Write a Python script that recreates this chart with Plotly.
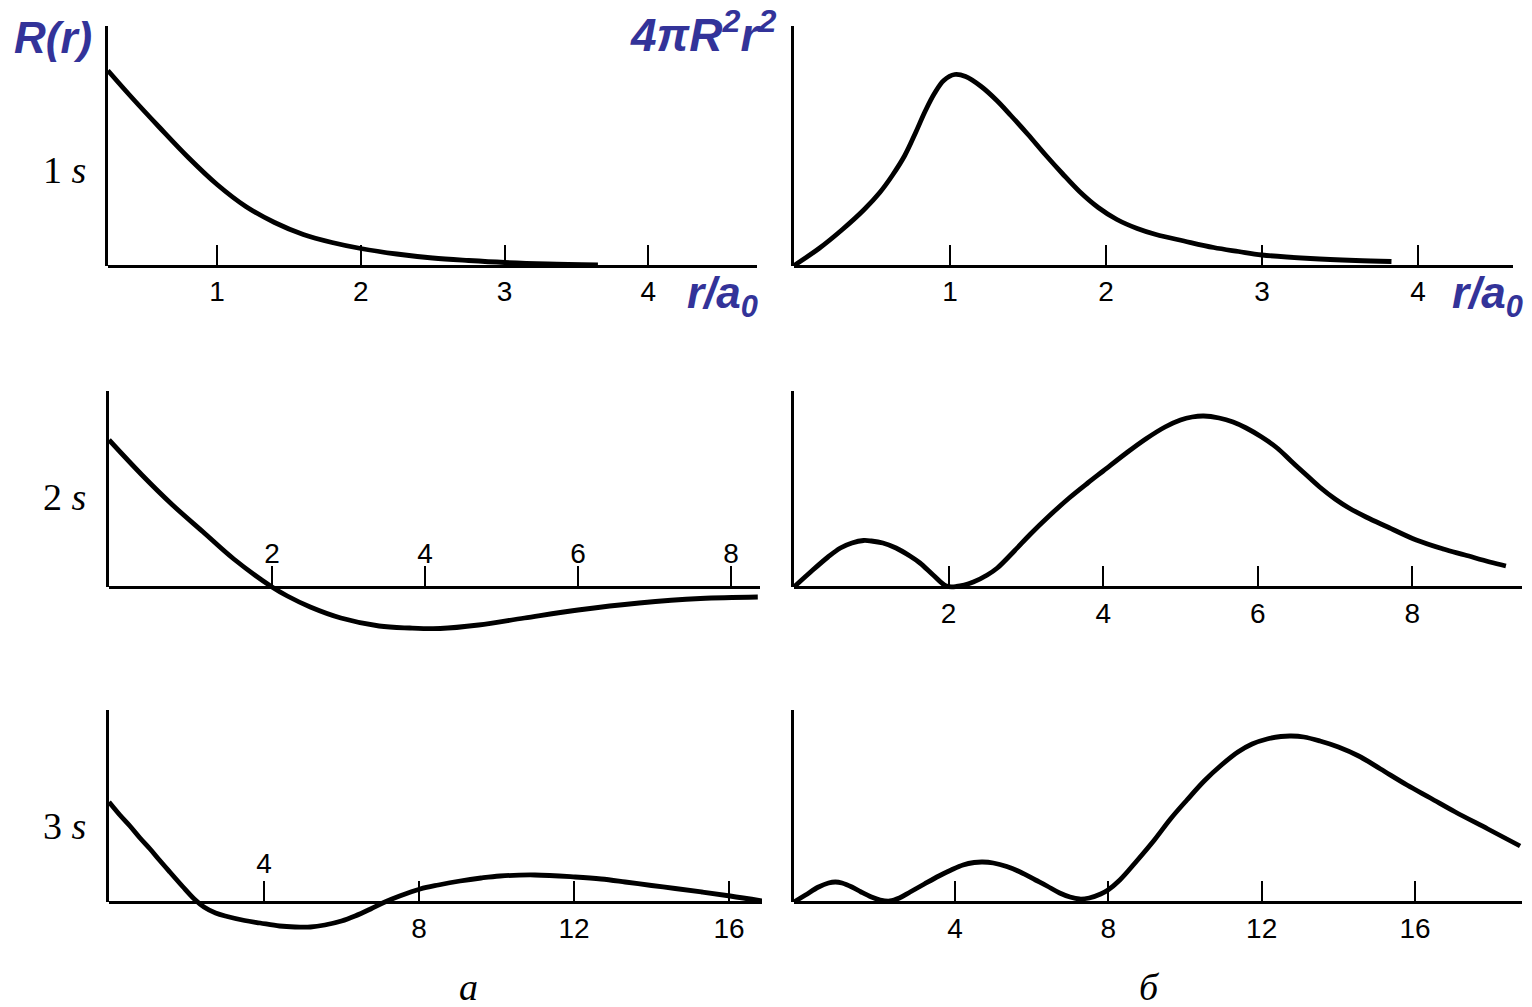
import plotly.graph_objects as go

W, H = 1532, 1007

# ---------------- data (arbitrary amplitude units) ----------------
# a) radial functions R(r)
r_1s_R = [0.24, 0.4, 0.6, 0.8, 1.0, 1.2, 1.4, 1.6, 1.8, 2.0, 2.25, 2.5, 2.75, 3.0, 3.3, 3.65]
R_1s = [1.95, 1.69, 1.38, 1.08, 0.81, 0.59, 0.43, 0.31, 0.23, 0.17, 0.115, 0.075, 0.05, 0.03, 0.015, 0.005]

r_2s_R = [-0.13, 0.3, 0.7, 1.1, 1.5, 2.0, 2.2, 2.5, 2.9, 3.4, 3.8, 4.2, 4.7, 5.3, 6.0, 6.8, 7.6, 8.35]
R_2s = [1.47, 1.12, 0.82, 0.55, 0.28, 0.0, -0.09, -0.20, -0.31, -0.39, -0.41, -0.415, -0.38, -0.31,
        -0.23, -0.16, -0.115, -0.10]

r_3s_R = [0.0, 0.28, 0.54, 0.8, 1.06, 1.3, 1.57, 1.9, 2.2, 2.45, 2.75, 3.05, 3.5, 3.9, 4.4, 4.8,
          5.2, 5.57, 6.0, 6.35, 6.75, 7.12, 7.5, 8.03, 8.5, 9.06, 9.6, 10.09, 10.99, 12.03, 12.7, 13.32,
          14.0, 14.61, 15.3, 16.03, 16.85]
R_3s = [1.00, 0.87, 0.76, 0.64, 0.53, 0.42, 0.30, 0.155, 0.03, -0.05, -0.11, -0.145, -0.185, -0.21,
        -0.24, -0.25, -0.25, -0.23, -0.19, -0.14, -0.07, 0.0, 0.06, 0.13, 0.17, 0.21, 0.24, 0.26, 0.27,
        0.25, 0.23, 0.20, 0.165, 0.135, 0.10, 0.06, 0.01]

# б) radial probability 4πR²r²
r_1s_P = [0.0, 0.16, 0.31, 0.45, 0.55, 0.63, 0.71, 0.78, 0.84, 0.9, 0.96, 1.03, 1.1, 1.2, 1.3, 1.39,
          1.5, 1.61, 1.72, 1.83, 1.95, 2.07, 2.2, 2.32, 2.5, 2.69, 2.85, 3.0, 3.31, 3.6, 3.83]
P_1s = [0.0, 0.17, 0.36, 0.56, 0.73, 0.90, 1.10, 1.33, 1.54, 1.72, 1.85, 1.91, 1.89, 1.79, 1.65,
        1.50, 1.31, 1.11, 0.92, 0.74, 0.58, 0.46, 0.37, 0.31, 0.245, 0.18, 0.14, 0.105, 0.07, 0.05, 0.04]

r_2s_P = [0.0, 0.2, 0.44, 0.6, 0.75, 0.9, 1.0, 1.15, 1.32, 1.5, 1.63, 1.8, 1.97, 2.1, 2.32, 2.5,
          2.63, 2.85, 3.06, 3.3, 3.56, 3.8, 4.0, 4.3, 4.55, 4.8, 5.0, 5.15, 5.3, 5.5, 5.68, 5.85,
          6.05, 6.25, 6.43, 6.6, 6.8, 7.0, 7.18, 7.4, 7.68, 8.05, 8.4, 8.68, 9.0, 9.21]
P_2s = [0.0, 0.14, 0.30, 0.39, 0.44, 0.465, 0.46, 0.44, 0.39, 0.31, 0.24, 0.12, 0.01, 0.005, 0.05,
        0.12, 0.19, 0.36, 0.53, 0.71, 0.89, 1.04, 1.16, 1.34, 1.48, 1.60, 1.67, 1.70, 1.71, 1.69,
        1.65, 1.59, 1.50, 1.39, 1.26, 1.14, 1.00, 0.88, 0.79, 0.70, 0.60, 0.47, 0.38, 0.32, 0.25, 0.21]

r_3s_P = [-0.2, 0.1, 0.44, 0.7, 0.88, 1.05, 1.31, 1.55, 1.82, 2.05, 2.3, 2.55, 2.83, 3.2, 3.58, 3.9,
          4.21, 4.5, 4.72, 5.0, 5.35, 5.7, 6.1, 6.4, 6.73, 7.0, 7.25, 7.5, 7.8, 7.99, 8.3, 8.74, 9.2,
          9.62, 10.05, 10.5, 10.95, 11.38, 11.75, 12.14, 12.5, 12.77, 13.1, 13.52, 14.0, 14.53, 15.1,
          15.79, 16.4, 17.05, 17.9, 18.74]
P_3s = [0.0, 0.07, 0.15, 0.19, 0.20, 0.19, 0.15, 0.10, 0.05, 0.02, 0.01, 0.04, 0.10, 0.18, 0.26,
        0.32, 0.37, 0.395, 0.40, 0.39, 0.355, 0.30, 0.22, 0.16, 0.09, 0.05, 0.03, 0.04, 0.08, 0.12,
        0.22, 0.41, 0.62, 0.83, 1.02, 1.21, 1.37, 1.50, 1.58, 1.63, 1.655, 1.66, 1.65, 1.61, 1.55,
        1.46, 1.33, 1.17, 1.04, 0.90, 0.73, 0.56]

ticks_1s = [1, 2, 3, 4]
ticks_2s = [2, 4, 6, 8]
ticks_3s = [4, 8, 12, 16]
orbital_labels = ["1 <i>s</i>", "2 <i>s</i>", "3 <i>s</i>"]
part_labels = ["а", "б"]

# ---------------- layout of the six panels (pixel geometry) ----------------
panels = [
    dict(r=r_1s_R, v=R_1s, x0=108, x1=757, xr=[0.241, 4.757], axis=265.5, top=26, bot=272,
         ticks=ticks_1s, pos="outside"),
    dict(r=r_1s_P, v=P_1s, x0=794, x1=1513, xr=[0.0, 4.609], axis=265.5, top=26, bot=272,
         ticks=ticks_1s, pos="outside"),
    dict(r=r_2s_R, v=R_2s, x0=109, x1=760, xr=[-0.131, 8.379], axis=587, top=391, bot=640,
         ticks=ticks_2s, pos="inside"),
    dict(r=r_2s_P, v=P_2s, x0=794, x1=1522, xr=[0.0, 9.418], axis=587, top=391, bot=593,
         ticks=ticks_2s, pos="outside"),
    dict(r=r_3s_R, v=R_3s, x0=109, x1=762, xr=[0.0, 16.85], axis=902, top=710, bot=935,
         ticks=ticks_3s, pos="outside"),
    dict(r=r_3s_P, v=P_3s, x0=794, x1=1522, xr=[-0.2, 18.79], axis=902, top=710, bot=908,
         ticks=ticks_3s, pos="outside"),
]

TICKFONT = dict(family="Liberation Sans", size=28, color="black")
fig = go.Figure()
layout = {}
for k, p in enumerate(panels, start=1):
    sx = "" if k == 1 else str(k)
    # empty trace so that the vertical-axis subplot gets drawn
    fig.add_trace(go.Scatter(x=[], y=[], mode="lines", xaxis="x" + sx, yaxis="y" + str(k + 6),
                             showlegend=False, hoverinfo="skip"))
    fig.add_trace(go.Scatter(x=p["r"], y=p["v"], mode="lines", xaxis="x" + sx, yaxis="y" + sx,
                             line=dict(color="black", width=4.8, shape="spline", smoothing=1.0),
                             showlegend=False, hoverinfo="skip"))
    ticktext = [str(t) for t in p["ticks"]]
    if k == 5:
        ticktext = [""] + ticktext[1:]
    layout["xaxis" + sx] = dict(
        domain=[p["x0"] / W, p["x1"] / W], range=p["xr"], anchor="free", position=1 - p["axis"] / H,
        showline=True, linecolor="black", linewidth=3, ticks="inside", ticklen=20, tickwidth=2,
        tickcolor="black", tickvals=p["ticks"], ticktext=ticktext, showgrid=False, zeroline=False,
        tickfont=TICKFONT, ticklabelposition=p["pos"], fixedrange=True)
    layout["yaxis" + sx] = dict(
        domain=[1 - p["bot"] / H, 1 - p["top"] / H],
        range=[-(p["bot"] - p["axis"]) / 100, (p["axis"] - p["top"]) / 100],
        visible=False, anchor="x" + sx, fixedrange=True)
    # vertical axis line (from the r axis up to the top only)
    layout["yaxis" + str(k + 6)] = dict(
        domain=[1 - p["axis"] / H, 1 - p["top"] / H], range=[0, 1], anchor="x" + sx,
        showline=True, linecolor="black", linewidth=3, showticklabels=False, ticks="",
        showgrid=False, zeroline=False, fixedrange=True)

# label "4" above the axis in the 3s R(r) panel
p5 = panels[4]
fig.add_trace(go.Scatter(x=[], y=[], mode="lines", xaxis="x7", yaxis="y5",
                         showlegend=False, hoverinfo="skip"))
layout["xaxis7"] = dict(
    overlaying="x5", range=p5["xr"], anchor="free", position=1 - p5["axis"] / H,
    showline=False, ticks="", tickvals=[ticks_3s[0]], ticktext=[str(ticks_3s[0])],
    ticklabelposition="inside", ticklabelstandoff=20, tickfont=TICKFONT, showgrid=False,
    zeroline=False, fixedrange=True)

BLUE = "#333399"
ann = []
def A(text, x, y, xa, ya, size, family, color, style="normal", weight="normal"):
    ann.append(dict(text=text, x=x / W, y=1 - y / H, xref="paper", yref="paper", xanchor=xa,
                    yanchor=ya, showarrow=False,
                    font=dict(size=size, family=family, color=color, style=style, weight=weight)))

A("R(r)", 12, 38, "left", "middle", 44, "Liberation Sans", BLUE, "italic", "bold")
A("4πR<sup>2</sup>r<sup>2</sup>", 778, 32, "right", "middle", 46, "Liberation Sans", BLUE, "italic", "bold")
A("r/a<sub>0</sub>", 685, 296, "left", "middle", 44, "Liberation Sans", BLUE, "italic", "bold")
A("r/a<sub>0</sub>", 1450, 296, "left", "middle", 44, "Liberation Sans", BLUE, "italic", "bold")
for lab, yy in zip(orbital_labels, [170, 497, 826]):
    A(lab, 64, yy, "center", "middle", 38, "Liberation Serif", "black")
A(part_labels[0], 468, 1010, "center", "bottom", 38, "Liberation Serif", "black", "italic")
A(part_labels[1], 1149, 1010, "center", "bottom", 38, "Liberation Serif", "black", "italic")

fig.update_layout(**layout)
fig.update_layout(width=W, height=H, margin=dict(l=0, r=0, t=0, b=0), autosize=False,
                  paper_bgcolor="white", plot_bgcolor="rgba(0,0,0,0)", annotations=ann,
                  showlegend=False)
fig.write_html("out.html", config={"displayModeBar": False},
               post_script="document.body.style.margin='0px';document.body.style.overflow='hidden';")
